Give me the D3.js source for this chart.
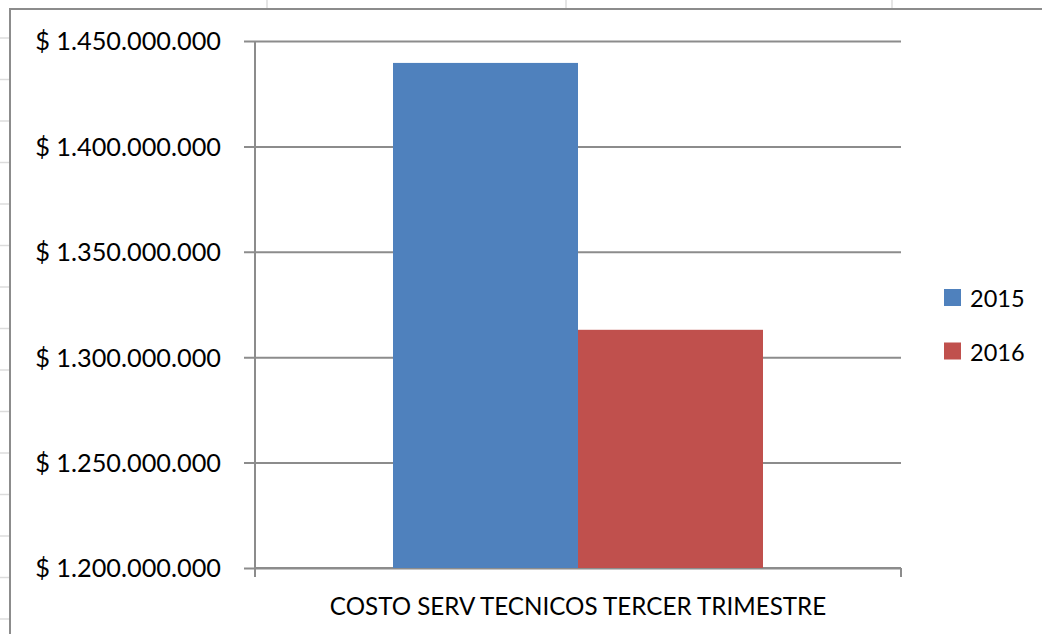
<!DOCTYPE html>
<html>
<head>
<meta charset="utf-8">
<script src="https://cdn.jsdelivr.net/npm/d3@7"></script>
<style>
  html, body { margin: 0; padding: 0; background: #fff; }
  svg { display: block; font-family: Lato, "Open Sans", sans-serif; }
</style>
</head>
<body>
<div id="container"></div>
<script>
/* DATA */
const categories = ["COSTO SERV TECNICOS TERCER TRIMESTRE"];
const seriesNames = ["2015", "2016"];
const values2015 = [1439600000];
const values2016 = [1313000000];
const yTicks = [1200000000, 1250000000, 1300000000, 1350000000, 1400000000, 1450000000];

/* CONSTANTS */
const width = 1042;
const height = 634;
const plot = { left: 255, top: 41, right: 901, bottom: 568 };
const colors = { "2015": "#4f81bd", "2016": "#c0504d" };
const lineColor = "#8c8c8c";
const fontFamily = "Lato, 'Open Sans', sans-serif";

const svg = d3.select("#container")
  .append("svg")
  .attr("width", width)
  .attr("height", height);

svg.append("rect").attr("width", width).attr("height", height).attr("fill", "#fff");

// spreadsheet cells peeking out behind the chart
const bg = svg.append("g").attr("stroke", "#dcdcdc").attr("stroke-width", 1.5);
[267, 566, 892].forEach(x => bg.append("line").attr("x1", x).attr("x2", x).attr("y1", 0).attr("y2", 9));
d3.range(38, height, 41.5).forEach(y => bg.append("line").attr("x1", 0).attr("x2", 10).attr("y1", y).attr("y2", y));

// chart frame
svg.append("rect")
  .attr("x", 10).attr("y", 9)
  .attr("width", width).attr("height", height)
  .attr("fill", "#fff")
  .attr("stroke", lineColor)
  .attr("stroke-width", 2);

/* SCALES */
const y = d3.scaleLinear()
  .domain([d3.min(yTicks), d3.max(yTicks)])
  .range([plot.bottom, plot.top]);

const x0 = d3.scaleBand()
  .domain(categories)
  .range([plot.left, plot.right])
  .padding(0);

const x1 = d3.scaleBand()
  .domain(seriesNames)
  .range([0, x0.bandwidth()])
  .paddingInner(0)
  .paddingOuter(0.746);

const money = d3.formatLocale({ decimal: ",", thousands: ".", grouping: [3], currency: ["$ ", ""] }).format("$,.0f");

/* GRIDLINES + Y AXIS */
const yAxis = svg.append("g")
  .attr("transform", `translate(${plot.left},0)`)
  .call(d3.axisLeft(y).tickValues(yTicks).tickSize(11).tickPadding(23).tickFormat(money))
  .attr("font-family", fontFamily);
yAxis.select(".domain").remove();
yAxis.selectAll(".tick line")
  .attr("x2", plot.right - plot.left)
  .attr("x1", -11)
  .attr("stroke", lineColor)
  .attr("stroke-width", 2);
yAxis.selectAll(".tick text")
  .attr("fill", "#000")
  .style("font-size", "25.3px")
  .attr("dy", "0.35em");

// left axis line (extends down past the baseline like Excel's tick)
svg.append("line")
  .attr("x1", plot.left).attr("x2", plot.left)
  .attr("y1", plot.top).attr("y2", plot.bottom + 9)
  .attr("stroke", lineColor).attr("stroke-width", 2);

// bottom axis
const xAxis = svg.append("g")
  .attr("transform", `translate(0,${plot.bottom})`)
  .call(d3.axisBottom(x0).tickSize(0).tickPadding(47))
  .attr("font-family", fontFamily);
xAxis.select(".domain").remove();
xAxis.selectAll(".tick text")
  .attr("fill", "#000")
  .style("font-size", "24.2px")
  .attr("dy", "0");
svg.append("line")
  .attr("x1", plot.left).attr("x2", plot.right)
  .attr("y1", plot.bottom).attr("y2", plot.bottom)
  .attr("stroke", lineColor).attr("stroke-width", 2);
svg.append("line")
  .attr("x1", plot.right).attr("x2", plot.right)
  .attr("y1", plot.bottom).attr("y2", plot.bottom + 9)
  .attr("stroke", lineColor).attr("stroke-width", 2);

/* BARS */
const rows = categories.map((c, i) => ({
  category: c,
  values: [
    { key: "2015", value: values2015[i] },
    { key: "2016", value: values2016[i] }
  ]
}));

svg.append("g")
  .selectAll("g")
  .data(rows)
  .join("g")
  .attr("transform", d => `translate(${x0(d.category)},0)`)
  .selectAll("rect")
  .data(d => d.values)
  .join("rect")
  .attr("x", d => x1(d.key))
  .attr("y", d => y(d.value))
  .attr("width", x1.bandwidth())
  .attr("height", d => plot.bottom - y(d.value))
  .attr("fill", d => colors[d.key]);

/* LEGEND */
const legend = svg.append("g").attr("transform", "translate(944,289)");
const item = legend.selectAll("g")
  .data(seriesNames)
  .join("g")
  .attr("transform", (d, i) => `translate(0,${i * 53.5})`);
item.append("rect")
  .attr("width", 17).attr("height", 17)
  .attr("fill", d => colors[d]);
item.append("text")
  .attr("x", 26).attr("y", 18)
  .style("font-size", "23.5px")
  .text(d => d);
</script>
</body>
</html>
